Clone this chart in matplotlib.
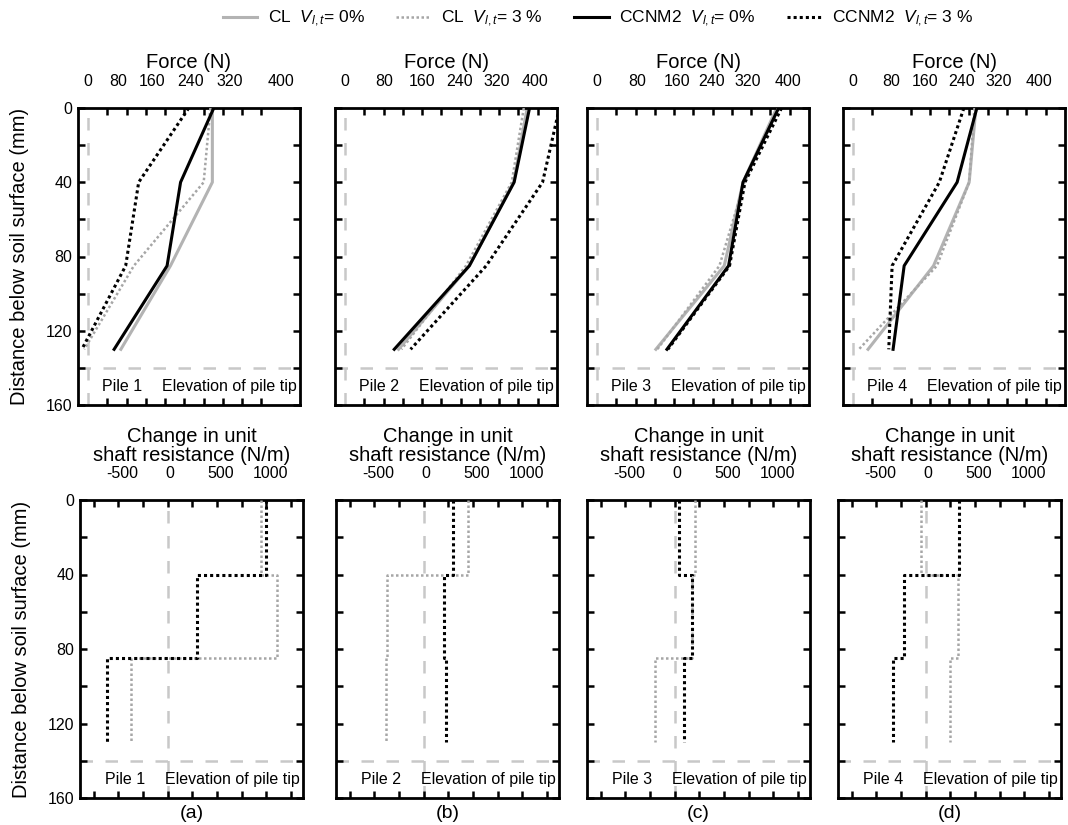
#!/usr/bin/env python3
# -*- coding: utf-8 -*-

import numpy as np
import matplotlib
matplotlib.use('Agg')
import matplotlib.pyplot as plt

plt.rcParams['font.family'] = ['Liberation Sans', 'DejaVu Sans']
plt.rcParams['mathtext.fontset'] = 'custom'
plt.rcParams['mathtext.rm'] = 'Liberation Sans'
plt.rcParams['mathtext.it'] = 'Liberation Sans:italic'

# ---- data -------------------------------------------------------------
depth = [0, 40, 85, 130]  # mm below soil surface

# Force (N) profiles, one list per pile
cl_0 = [[258, 258, 171, 68],
	[378, 350, 258, 111],
	[373, 303, 264, 122],
	[255, 241, 167, 31]]
cl_3 = [[254, 240, 95, -8],
	[371, 346, 251, 117],
	[376, 306, 254, 125],
	[252, 241, 174, 12]]
ccnm_0 = [[261, 192, 164, 54],
	[383, 351, 258, 102],
	[377, 303, 273, 145],
	[257, 216, 106, 83]]
ccnm_3 = [[209, 105, 78, -13],
	[445, 410, 293, 136],
	[383, 307, 275, 147],
	[230, 179, 81, 74]]

# change in unit shaft resistance (N/m), per segment 0-40, 40-85, 85-130
seg_top = [0, 40, 85]
seg_bot = [40, 85, 130]
dq_cl_3 = [[942, 1103, -370],
	[450, -373, -385],
	[200, 173, -200],
	[-50, 323, 247]]
dq_ccnm_3 = [[1000, 291, -620],
	[293, 200, 220],
	[40, 173, 90],
	[333, -220, -337]]

pile_names = ['Pile 1', 'Pile 2', 'Pile 3', 'Pile 4']
panel_tags = ['(a)', '(b)', '(c)', '(d)']
tip_depth = 140

force_ticks = ['0', '80', '160', '240', '320', '400']
# the labels in the source figure sit a bit off the tick marks
force_label_pos = [[0, 62, 133, 212, 295, 400],
	[0, 81, 159, 237, 314, 394],
	[0, 83, 166, 237, 313, 397],
	[0, 80, 150, 226, 303, 386]]
dq_ticks = ['-500', '0', '500', '1000']
dq_label_pos = [-460, 25, 540, 1045]

legend_labels = [r'CL  $V_{l,t}$= 0%', r'CL  $V_{l,t}$= 3 %',
	r'CCNM2  $V_{l,t}$= 0%', r'CCNM2  $V_{l,t}$= 3 %']

# ---- styles -----------------------------------------------------------
GRAY = '#b3b3b3'
GRAY_DOT = '#a6a6a6'
REF = '#c8c8c8'
W, H = 1068, 825

fig = plt.figure(figsize=(W / 100, H / 100), dpi=100)

def px_axes(left, top, width, height):
	return fig.add_axes([left / W, 1 - (top + height) / H, width / W, height / H])

def style_box(ax):
	for s in ax.spines.values():
		s.set_linewidth(2)
	ax.set_ylim(160, 0)
	ax.set_yticks(np.arange(0, 161, 20), minor=True)
	ax.set_yticks(np.arange(0, 161, 40))
	ax.tick_params(axis='y', which='both', direction='in', left=True, right=True,
		length=5, width=1.8, labelsize=11.5, pad=4)
	ax.tick_params(axis='x', which='minor', direction='in', top=True, bottom=True,
		length=5, width=1.8)
	ax.tick_params(axis='x', which='major', length=0, top=True, bottom=False,
		labeltop=True, labelbottom=False, labelsize=11.5)
	ax.axhline(tip_depth, color=REF, lw=1.8, dashes=(5, 5), zorder=1)
	ax.axvline(0, color=REF, lw=1.8, dashes=(5, 5), zorder=1)

top_lefts = [78, 335, 587, 843]
bot_lefts = [80, 336, 587, 838]

handles = []
for i in range(4):
	# force profiles
	ax = px_axes(top_lefts[i], 108, 222, 297)
	style_box(ax)
	ax.set_xlim(-21, 440)
	ax.set_xticks(np.arange(0, 401, 40), minor=True)
	ax.set_xticks(force_label_pos[i])
	ax.set_xticklabels(force_ticks)
	ax.tick_params(axis='x', which='major', pad=14)
	ax.xaxis.set_label_position('top')
	ax.set_xlabel('Force (N)', fontsize=14.5, labelpad=4)
	h1, = ax.plot(cl_0[i], depth, color=GRAY, lw=2.2, zorder=2)
	h2, = ax.plot(cl_3[i], depth, color=GRAY_DOT, lw=1.8, ls=(0, (1, 1)), zorder=3)
	h3, = ax.plot(ccnm_0[i], depth, color='black', lw=2.2, zorder=4)
	h4, = ax.plot(ccnm_3[i], depth, color='black', lw=2.2, ls=(0, (1, 1)), zorder=5)
	if i == 0:
		handles = [h1, h2, h3, h4]
	ax.text(0.11, 150, pile_names[i], transform=ax.get_yaxis_transform(),
		fontsize=11.5, va='center', ha='left')
	ax.text(0.985, 150, 'Elevation of pile tip', transform=ax.get_yaxis_transform(),
		fontsize=11.5, va='center', ha='right')
	if i == 0:
		ax.set_ylabel('Distance below soil surface (mm)', fontsize=14.5, labelpad=12)
	else:
		ax.set_yticklabels([])

	# change in unit shaft resistance, stepped
	bx = px_axes(bot_lefts[i], 500, 223, 298)
	style_box(bx)
	bx.set_xlim(-890, 1370)
	bx.set_xticks(np.arange(-750, 1251, 250), minor=True)
	bx.set_xticks(dq_label_pos)
	bx.set_xticklabels(dq_ticks)
	bx.tick_params(axis='x', which='major', pad=14)
	bx.xaxis.set_label_position('top')
	bx.set_xlabel('Change in unit\nshaft resistance (N/m)', fontsize=14.5,
		labelpad=3, linespacing=1.05)
	yy = np.column_stack([seg_top, seg_bot]).ravel()
	bx.plot(np.repeat(dq_cl_3[i], 2), yy, color=GRAY_DOT, lw=1.8,
		ls=(0, (1, 1)), zorder=3)
	bx.plot(np.repeat(dq_ccnm_3[i], 2), yy, color='black', lw=2.2,
		ls=(0, (1, 1)), zorder=5)
	bx.text(0.11, 150, pile_names[i], transform=bx.get_yaxis_transform(),
		fontsize=11.5, va='center', ha='left')
	bx.text(0.985, 150, 'Elevation of pile tip', transform=bx.get_yaxis_transform(),
		fontsize=11.5, va='center', ha='right')
	bx.text(0.5, -0.025, panel_tags[i], transform=bx.transAxes,
		fontsize=14, ha='center', va='top')
	if i == 0:
		bx.set_ylabel('Distance below soil surface (mm)', fontsize=14.5, labelpad=12)
	else:
		bx.set_yticklabels([])

fig.legend(handles, legend_labels, loc='center', bbox_to_anchor=(0.56, 0.977),
	ncol=4, frameon=False, fontsize=12.5, handlelength=2.0, columnspacing=1.8,
	handletextpad=0.6)

fig.savefig('out.png', dpi=100)
